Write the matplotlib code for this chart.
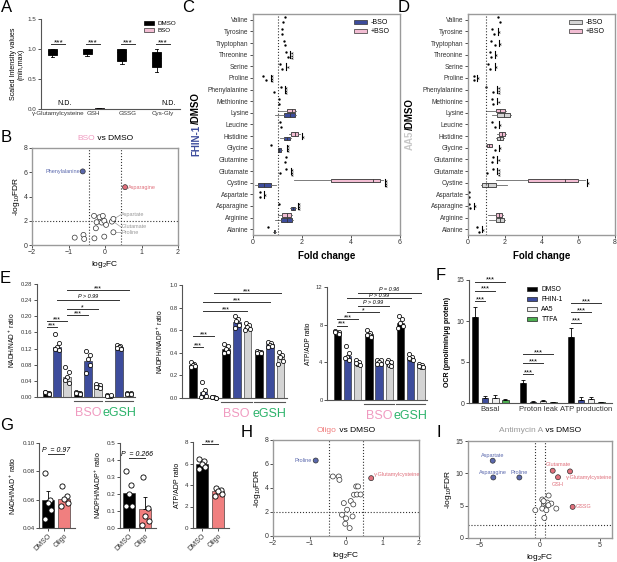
import matplotlib
matplotlib.use('Agg')
import matplotlib.pyplot as plt
from matplotlib.patches import Patch
from matplotlib.transforms import blended_transform_factory as btf
import numpy as np

plt.rcParams['font.family'] = ['Liberation Sans', 'DejaVu Sans']
plt.rcParams['mathtext.fontset'] = 'custom'
plt.rcParams['mathtext.rm'] = 'Liberation Sans'
plt.rcParams['mathtext.it'] = 'Liberation Sans:italic'
plt.rcParams['mathtext.bf'] = 'Liberation Sans:bold'

# ---------------- DATA ----------------
# Panel A (box stats: lo, q1, med, q3, hi)
a_categories = ['γ-Glutamylcysteine', 'GSH', 'GSSG', 'Cys-Gly']
a_dmso_stats = [(0.86, 0.90, 0.97, 1.00, 1.00), (0.88, 0.91, 0.98, 1.00, 1.00),
                (0.75, 0.80, 0.95, 1.00, 1.00), (0.62, 0.70, 0.85, 0.95, 1.00)]
a_bso_stats = [None, (0.0, 0.0, 0.0, 0.012, 0.012), (0.0, 0.0, 0.0, 0.008, 0.008), None]
a_sig = ['***', '***', '***', '***']

# Panel B volcano
b_x = [-0.61, 0.55, -0.30, -0.15, -0.06, -0.23, -0.09, -0.02, 0.03, -0.25, 0.19, 0.23,
       -0.83, -0.59, -0.57, -0.29, -0.02, 0.23]
b_y = [6.07, 4.77, 2.40, 2.29, 2.40, 1.88, 1.85, 1.99, 1.66, 1.38, 1.93, 2.15,
       0.61, 0.83, 0.50, 0.55, 0.69, 1.05]
b_dir = ['down', 'up'] + ['ns'] * 16

# Panel C / D horizontal box plots
cd_rows = ['Valine', 'Tyrosine', 'Tryptophan', 'Threonine', 'Serine', 'Proline',
           'Phenylalanine', 'Methionine', 'Lysine', 'Leucine', 'Histidine', 'Glycine',
           'Glutamine', 'Glutamate', 'Cystine', 'Aspartate', 'Asparagine', 'Arginine', 'Alanine']
c_minus = [1.22, 1.20, 1.30, 1.42, 1.20, 0.55, 0.87, 1.05,
           (0.88, 1.25, 1.50, 1.70, 1.75), 1.15, (1.10, 1.25, 1.40, 1.50, 1.55),
           (1.00, 1.03, 1.08, 1.15, 1.17), 1.30, 1.10, (0.10, 0.20, 0.45, 0.75, 0.95),
           0.30, (1.50, 1.55, 1.62, 1.72, 1.75), (0.90, 1.15, 1.40, 1.60, 1.65),
           (0.83, 0.85, 0.87, 0.90, 0.92)]
c_plus = [1.32, 1.18, 1.25, 1.35, 1.12, 0.40, 1.15, 1.05,
          (1.00, 1.40, 1.60, 1.72, 1.75), 1.12, (1.45, 1.55, 1.70, 1.85, 1.90),
          0.75, 1.35, 1.35, (1.68, 3.18, 4.90, 5.20, 5.30),
          0.28, 1.05, (1.00, 1.20, 1.40, 1.55, 1.60), 0.60]
c_sig = [None, None, None, (1.52, '***'), (1.36, '*'), (0.73, '***'), (1.30, '***'), None,
         None, None, (2.00, '*'), (1.38, '***'), None, (1.55, '***'), (5.37, '***'),
         (0.45, '*'), (1.82, '***'), None, None]
d_minus = [1.75, 1.40, 1.45, 1.25, 1.20, 0.35, 1.35, 1.35,
           (1.30, 1.60, 1.95, 2.30, 2.35), 1.45, (1.55, 1.60, 1.75, 1.90, 1.95),
           1.45, 1.30, 1.05, (0.70, 0.75, 1.10, 1.50, 2.10),
           0.05, 0.10, (1.15, 1.50, 1.75, 1.95, 2.00), 0.60]
d_plus = [1.65, 1.30, 1.25, 1.20, 1.10, 0.30, 1.00, 1.30,
          (1.00, 1.50, 1.75, 2.00, 2.05), 1.30, (1.60, 1.70, 1.85, 2.00, 2.05),
          (1.00, 1.05, 1.15, 1.30, 1.30), 1.35, 1.35, (1.52, 3.28, 5.27, 6.00, 6.36),
          0.05, 0.08, (1.10, 1.50, 1.70, 1.85, 1.90), 0.50]
d_sig = [None, (1.62, '*'), (1.70, '*'), (1.45, '*'), (1.45, '*'), (0.50, '*'), (1.60, '***'),
         (1.60, '*'), None, (1.70, '*'), None, (1.70, '*'), (1.60, '*'), (1.60, '***'),
         (6.45, '*'), None, (0.30, '*'), None, (0.75, '*')]

# Panel E (9 bars: DMSO, FHIN-1, AA5 x [ctrl, BSO, eGSH])
e_series = ['DMSO', 'FHIN-1', 'AA5'] * 3
e1_bars = [0.010, 0.125, 0.050, 0.010, 0.090, 0.027, 0.003, 0.125, 0.008]
e1_points = [[0.013, 0.011, 0.009, 0.007, 0.012], [0.155, 0.133, 0.125, 0.117, 0.120],
             [0.075, 0.062, 0.050, 0.035, 0.043], [0.013, 0.011, 0.009, 0.008, 0.010],
             [0.115, 0.105, 0.095, 0.080, 0.060], [0.033, 0.030, 0.026, 0.022, 0.025],
             [0.005, 0.003, 0.002, 0.004, 0.003], [0.130, 0.127, 0.124, 0.120, 0.122],
             [0.011, 0.009, 0.008, 0.007, 0.008]]
e1_brackets = [(0, 1, 0.173, '***'), (0, 2, 0.188, '***'), (2, 4, 0.203, '***'),
               (2, 5, 0.217, '*'), (1, 7, 0.240, 'P > 0.99'), (2, 8, 0.265, '***')]
e2_bars = [0.29, 0.05, 0.005, 0.43, 0.67, 0.63, 0.41, 0.48, 0.37]
e2_points = [[0.32, 0.30, 0.29, 0.28, 0.27], [0.14, 0.07, 0.04, 0.02, 0.01],
             [0.006, 0.004, 0.005, 0.003, 0.006], [0.48, 0.46, 0.43, 0.41, 0.40],
             [0.73, 0.70, 0.68, 0.65, 0.62], [0.66, 0.65, 0.63, 0.61, 0.60],
             [0.42, 0.41, 0.41, 0.40, 0.40], [0.50, 0.49, 0.47, 0.46, 0.45],
             [0.41, 0.38, 0.36, 0.33, 0.30]]
e2_brackets = [(0, 1, 0.45, '***'), (0, 2, 0.55, '***'), (1, 5, 0.77, '***'),
               (1, 7, 0.85, '***'), (2, 8, 0.93, '***')]
e3_bars = [7.2, 4.7, 3.9, 7.0, 4.0, 3.9, 8.2, 4.5, 3.6]
e3_points = [[7.3, 7.2, 7.1, 7.0, 7.2], [5.7, 5.0, 4.6, 4.3, 4.5], [4.3, 4.0, 3.8, 3.7, 3.9],
             [7.4, 7.1, 6.9, 6.7, 6.9], [4.3, 4.2, 4.0, 3.8, 3.8], [4.3, 4.0, 3.7, 3.6, 4.0],
             [8.9, 8.6, 8.2, 7.9, 7.6], [4.9, 4.6, 4.4, 4.2, 4.5], [3.8, 3.7, 3.5, 3.5, 3.6]]
e3_brackets = [(0, 1, 7.9, '***'), (0, 2, 8.6, '***'), (1, 4, 9.3, '*'),
               (2, 5, 10.0, 'P > 0.99'), (1, 7, 10.8, 'P > 0.99'), (2, 8, 11.4, 'P = 0.96')]

# Panel F
f_categories = ['Basal', 'Proton leak', 'ATP production']
f_series = ['DMSO', 'FHIN-1', 'AA5', 'TTFA']
f_values = [[10.5, 2.5, 8.1], [0.6, 0.15, 0.4], [0.6, 0.2, 0.45], [0.35, 0.1, 0.1]]
f_errors = [[1.2, 0.3, 1.0], [0.3, 0.1, 0.3], [0.4, 0.15, 0.3], [0.15, 0.05, 0.05]]
f_brackets = [[12.4, 13.7, 14.8], [3.5, 4.9, 6.0], [9.8, 11.1, 12.2]]

# Panel G
g_groups = ['DMSO', 'Oligo']
g1_bars = [0.0598, 0.0605]; g1_err = [0.0066, 0.0]
g1_points = [[0.079, 0.0595, 0.0576, 0.0529, 0.0465], [0.0697, 0.0628, 0.0605, 0.0576, 0.0555]]
g2_bars = [0.206, 0.114]; g2_err = [0.0, 0.066]
g2_points = [[0.337, 0.255, 0.20, 0.127, 0.127], [0.30, 0.12, 0.07, 0.04, 0.02]]
g3_bars = [6.0, 3.4]; g3_err = [0.0, 0.0]
g3_points = [[6.4, 6.2, 6.0, 5.7, 5.5], [3.7, 3.5, 3.4, 3.2, 3.0]]

# Panel H volcano
h_x = [-0.83, 0.69, -0.36, -0.20, -0.18, 0.28, 0.33, 0.22, 0.30, 0.40, -0.06, 0.13,
       0.20, 0.03, -0.11, 0.18, 0.00, -0.02, 0.10]
h_y = [6.29, 4.82, 4.96, 4.96, 4.68, 4.13, 4.13, 3.44, 3.46, 3.46, 2.74, 2.91,
       2.63, 2.19, 1.77, 1.63, 1.47, 1.02, 0.66]
h_dir = ['down', 'up'] + ['ns'] * 17

# Panel I volcano
i_x = [-3.94, -3.89, -1.72, 1.06, 2.50, 1.50, 2.72, -0.39, 0.19, 0.72, 0.33, 0.42, 0.61,
       0.94, 0.19, 0.53, 1.36, 0.36, 0.30, 0.70]
i_y = [11.95, 9.36, 9.36, 10.40, 10.30, 9.40, 4.81, 4.30, 5.95, 6.57, 5.17, 5.43, 5.48,
       5.33, 4.55, 4.30, 4.55, 3.10, 5.70, 5.07]
i_dir = ['down', 'down', 'down', 'up', 'up', 'up', 'up'] + ['ns'] * 13

# ---------------- STYLE ----------------
W, H = 617, 562
fig = plt.figure(figsize=(W / 100, H / 100), dpi=100)
BLUE = '#3d4c9c'
PINK = '#f2bdd3'
GREY = '#d4d4d4'
GREEN = '#4caf50'
BSO_TXT = '#f09ac0'
EGSH_TXT = '#2db36b'
SALMON = '#f07f7f'
PT_BLUE = '#5a68ad'
PT_RED = '#e0707c'
SPINE = '#555555'


def ax_px(x0, y0, x1, y1):
    return fig.add_axes([x0 / W, 1 - y1 / H, (x1 - x0) / W, (y1 - y0) / H])


def style(ax, box=False, lab=4.5, color=SPINE, lw=0.8):
    for s in ['top', 'right']:
        ax.spines[s].set_visible(box)
    for s in ax.spines.values():
        s.set_color(color)
        s.set_linewidth(lw)
    ax.tick_params(length=2, width=0.6, colors='#333333', labelsize=lab, pad=1.2)


def letter(s, x, y):
    fig.text(x / W, 1 - y / H, s, fontsize=12, va='top', ha='left')


def multicolor(parts, cx, cy, fs, rotation=0, weight='normal'):
    r = fig.canvas.get_renderer()
    ts, sizes = [], []
    for s, c in parts:
        t = fig.text(0, 0, s, color=c, fontsize=fs, rotation=rotation, weight=weight,
                     va='center', ha='center')
        bb = t.get_window_extent(r)
        sizes.append(bb.width if rotation == 0 else bb.height)
        ts.append(t)
    pos = -sum(sizes) / 2
    for t, s in zip(ts, sizes):
        mid = pos + s / 2
        if rotation == 0:
            t.set_position(((cx + mid) / W, 1 - cy / H))
        else:
            t.set_position((cx / W, 1 - (cy - mid) / H))
        pos += s


def bracket(ax, x1, x2, y, txt, fs=4.5):
    ax.plot([x1, x2], [y, y], color='#333333', lw=0.7, clip_on=False)
    stars = txt.startswith('*')
    ax.annotate(txt, xy=((x1 + x2) / 2, y), xytext=(0, -1.6 if stars else 0.5),
                textcoords='offset points', ha='center', va='bottom', fontsize=fs + (1 if stars else 0),
                style='normal' if stars else 'italic', annotation_clip=False)


JIT = [-0.17, 0.15, -0.02, 0.2, -0.2]

# ---------------- PANEL A ----------------
axA = ax_px(41, 19, 180, 109)
style(axA)
for i, (sd, sb) in enumerate(zip(a_dmso_stats, a_bso_stats)):
    for st, col, off in [(sd, 'black', -0.17), (sb, PINK, 0.17)]:
        if st is None:
            axA.text(i + 0.5 + off, 0.03, 'N.D.', ha='center', va='bottom', fontsize=5)
            continue
        lo, q1, med, q3, hi = st
        axA.bxp([dict(whislo=lo, q1=q1, med=med, q3=q3, whishi=hi, fliers=[])],
                positions=[i + 0.5 + off], widths=0.26, patch_artist=True, showcaps=True,
                boxprops=dict(facecolor=col, edgecolor='black', linewidth=0.6),
                medianprops=dict(color='black', linewidth=0.6),
                whiskerprops=dict(color='black', linewidth=0.6),
                capprops=dict(color='black', linewidth=0.6), capwidths=0.1, manage_ticks=False)
    bracket(axA, i + 0.5 - 0.2, i + 0.5 + 0.2, 1.08, a_sig[i], fs=5)
axA.set_xlim(0, 4)
axA.set_ylim(0, 1.5)
axA.set_yticks([0, 0.5, 1.0, 1.5])
axA.set_yticklabels(['0.0', '0.5', '1.0', '1.5'])
axA.set_xticks([i + 0.5 for i in range(4)])
axA.set_xticklabels(a_categories, fontsize=4.5)
axA.tick_params(axis='x', length=0)
axA.set_ylabel('Scaled Intensity values\n(min,max)', fontsize=5, labelpad=2)
axA.legend(handles=[Patch(facecolor='black', edgecolor='black', lw=0.5, label='DMSO'),
                    Patch(facecolor=PINK, edgecolor='#333', lw=0.5, label='BSO')],
           loc='upper left', bbox_to_anchor=(141 / W, 1 - 18 / H), bbox_transform=fig.transFigure,
           frameon=False, fontsize=4.5, handlelength=1.6, handleheight=0.6, labelspacing=0.3,
           borderpad=0, handletextpad=0.5)


# ---------------- VOLCANO helper ----------------
def volcano(ax, xs, ys, dirs, xlim, ylim, xticks, yticks, vl):
    style(ax, box=True, color='#9a9a9a', lw=1.0, lab=5)
    cmap = {'ns': 'white', 'up': PT_RED, 'down': PT_BLUE}
    ax.scatter(xs, ys, s=13, facecolor=[cmap[d] for d in dirs], edgecolor='#333333',
               linewidth=0.5, zorder=3)
    ax.axvline(-vl, color='#333', ls=':', lw=0.8)
    ax.axvline(vl, color='#333', ls=':', lw=0.8)
    ax.axhline(2, color='#333', ls=':', lw=0.8)
    ax.set_xlim(*xlim)
    ax.set_ylim(*ylim)
    ax.set_xticks(xticks)
    ax.set_yticks(yticks)
    ax.set_xlabel('log$_2$FC', fontsize=6, labelpad=2)
    ax.set_ylabel('-log$_{10}$FDR', fontsize=6, labelpad=1)


# ---------------- PANEL B ----------------
axB = ax_px(32, 148, 178, 245)
volcano(axB, b_x, b_y, b_dir, (-2, 2), (0, 8), [-2, -1, 0, 1, 2], [0, 2, 4, 6, 8], 0.44)
axB.text(-0.68, 6.07, 'Phenylalanine', ha='right', va='center', fontsize=4, color=PT_BLUE)
axB.text(0.64, 4.77, 'Asparagine', ha='left', va='center', fontsize=4, color=PT_RED)
for (px, py), (tx, ty), name in [((0.25, 2.15), (0.45, 2.5), 'Aspartate'),
                                 ((0.23, 1.93), (0.45, 1.5), 'Glutamate'),
                                 ((0.28, 1.05), (0.45, 1.05), 'Proline')]:
    axB.plot([px, tx - 0.02], [py, ty], color='#999999', lw=0.5)
    axB.text(tx, ty, name, ha='left', va='center', fontsize=4, color='#999999')
multicolor([('BSO', BSO_TXT), (' vs DMSO', 'black')], 105, 138, 6)


# ---------------- PANEL C / D ----------------
def hbox(ax, minus, plus, sig, mcol, xlim, xticks, soff):
    style(ax, box=True, color='#9a9a9a', lw=1.0, lab=5)
    n = len(cd_rows)
    for i in range(n):
        y = n - 1 - i
        for st, col, dy in [(plus[i], PINK, 0.2), (minus[i], mcol, -0.2)]:
            if not isinstance(st, tuple):
                ax.plot([st], [y + dy], 'o', ms=1.7, color='black', mew=0)
            else:
                lo, q1, med, q3, hi = st
                ax.bxp([dict(whislo=lo, q1=q1, med=med, q3=q3, whishi=hi, fliers=[])],
                       positions=[y + dy], widths=0.3, orientation='horizontal',
                       patch_artist=True, showcaps=False,
                       boxprops=dict(facecolor=col, edgecolor='#333333', linewidth=0.6),
                       medianprops=dict(color='#333333', linewidth=0.6),
                       whiskerprops=dict(color='#666666', linewidth=0.6), manage_ticks=False)
        if sig[i] is not None:
            xb, txt = sig[i]
            ax.plot([xb, xb], [y - 0.28, y + 0.28], color='black', lw=0.8)
            ax.text(xb + soff, y, txt, rotation=90, ha='center', va='center', fontsize=5.5,
                    clip_on=True)
    ax.axvline(1, color='#333', ls=':', lw=0.8)
    ax.set_xlim(*xlim)
    ax.set_ylim(-0.5, n - 0.5)
    ax.set_xticks(xticks)
    ax.set_yticks(range(n))
    ax.set_yticklabels(cd_rows[::-1], fontsize=4.7)
    ax.set_xlabel('Fold change', fontsize=7, weight='bold', labelpad=3)


axC = ax_px(253, 14, 400, 235)
hbox(axC, c_minus, c_plus, c_sig, BLUE, (0, 6), [0, 2, 4, 6], 0.17)
axC.legend(handles=[Patch(facecolor=BLUE, edgecolor='#333', lw=0.5, label='-BSO'),
                    Patch(facecolor=PINK, edgecolor='#333', lw=0.5, label='+BSO')],
           loc='upper left', bbox_to_anchor=(351 / W, 1 - 16 / H), bbox_transform=fig.transFigure,
           frameon=False, fontsize=5, handlelength=1.8, handleheight=0.6, labelspacing=0.25,
           borderpad=0, handletextpad=0.5)
multicolor([('FHIN-1', BLUE), ('/DMSO', 'black')], 196, 124, 7, rotation=90, weight='bold')

axD = ax_px(468, 14, 615, 235)
hbox(axD, d_minus, d_plus, d_sig, GREY, (0, 8), [0, 2, 4, 6, 8], 0.22)
axD.legend(handles=[Patch(facecolor=GREY, edgecolor='#333', lw=0.5, label='-BSO'),
                    Patch(facecolor=PINK, edgecolor='#333', lw=0.5, label='+BSO')],
           loc='upper left', bbox_to_anchor=(566 / W, 1 - 16 / H), bbox_transform=fig.transFigure,
           frameon=False, fontsize=5, handlelength=1.8, handleheight=0.6, labelspacing=0.25,
           borderpad=0, handletextpad=0.5)
multicolor([('AA5', '#c8c8c8'), ('/DMSO', 'black')], 410, 124, 7, rotation=90, weight='bold')

# ---------------- PANEL E ----------------
e_pos = [0, 1, 2, 3.1, 4.1, 5.1, 6.2, 7.2, 8.2]
e_cmap = {'DMSO': 'black', 'FHIN-1': BLUE, 'AA5': GREY}


def ebar(ax, bars, points, brackets, ylim, yticks, ylabel, fmt):
    style(ax, lab=4.2)
    ax.bar(e_pos, bars, width=0.72, color=[e_cmap[s] for s in e_series],
           edgecolor='#222222', linewidth=0.4)
    for p, pts in zip(e_pos, points):
        ax.scatter(np.array(JIT) + p, pts, s=9, facecolor='white', edgecolor='black',
                   linewidth=0.55, zorder=3, clip_on=False)
    for a, b, y, t in brackets:
        bracket(ax, e_pos[a], e_pos[b], y, t, fs=4)
    ax.set_xlim(-1.0, 8.8)
    ax.set_ylim(*ylim)
    ax.set_yticks(yticks)
    ax.set_yticklabels([fmt.format(v) for v in yticks])
    ax.set_xticks([])
    ax.set_ylabel(ylabel, fontsize=4.8, labelpad=3)
    tr = btf(ax.transData, ax.transAxes)
    for (i0, i1), name, col in [((3, 5), 'BSO', BSO_TXT), ((6, 8), 'eGSH', EGSH_TXT)]:
        ax.plot([e_pos[i0] - 0.45, e_pos[i1] + 0.45], [-0.035, -0.035], transform=tr,
                color='#555555', lw=0.8, clip_on=False)
        ax.text((e_pos[i0] + e_pos[i1]) / 2, -0.09, name, transform=tr, ha='center', va='top',
                fontsize=9, color=col)


axE1 = ax_px(37, 284, 135, 397)
ebar(axE1, e1_bars, e1_points, e1_brackets, (0, 0.28), [0, 0.04, 0.08, 0.12, 0.16, 0.20, 0.24, 0.28],
     'NADH/NAD$^+$ ratio', '{:.2f}')
axE2 = ax_px(182, 285, 287, 398)
ebar(axE2, e2_bars, e2_points, e2_brackets, (0, 1.0), [0, 0.2, 0.4, 0.6, 0.8, 1.0],
     'NADPH/NADP$^+$ ratio', '{:.1f}')
axE3 = ax_px(327, 287, 427, 400)
ebar(axE3, e3_bars, e3_points, e3_brackets, (0, 12), [0, 4, 8, 12], 'ATP/ADP ratio', '{:.0f}')

# ---------------- PANEL F ----------------
axF = ax_px(469, 280, 612, 403)
style(axF, lab=5)
f_cols = ['black', BLUE, '#eeeeee', GREEN]
xs = np.arange(len(f_categories))
for k, (vals, errs, col, name) in enumerate(zip(f_values, f_errors, f_cols, f_series)):
    axF.bar(xs + (k - 1.5) * 0.21, vals, width=0.14, color=col, edgecolor='#222222',
            linewidth=0.5, label=name,
            yerr=[np.zeros(len(errs)), errs], error_kw=dict(ecolor='black', elinewidth=0.6, capsize=1.5, capthick=0.6))
for j in range(3):
    for k in range(3):
        bracket(axF, xs[j] - 1.5 * 0.21, xs[j] + (k - 0.5) * 0.21, f_brackets[j][k], '***', fs=4.5)
axF.set_xlim(-0.44, 2.54)
axF.set_ylim(0, 15)
axF.set_yticks([0, 5, 10, 15])
axF.set_xticks(xs)
axF.set_xticklabels(f_categories, fontsize=5.5)
axF.tick_params(axis='x', length=0, pad=2)
axF.set_ylabel('OCR (pmol/min/μg protein)', fontsize=5, weight='bold', labelpad=4)
axF.legend(loc='upper left', bbox_to_anchor=(524 / W, 1 - 283 / H), bbox_transform=fig.transFigure,
           frameon=False, fontsize=4.8, handlelength=1.5, handleheight=0.6, labelspacing=0.45,
           borderpad=0, handletextpad=0.6)


# ---------------- PANEL G ----------------
def gbar(ax, bars, errs, points, ylim, yticks, fmt, ylabel, sig_y, sig_txt):
    style(ax, lab=4.5)
    ax.bar([0, 1], bars, width=0.72, color=['black', SALMON], edgecolor='#222222', linewidth=0.4,
           yerr=[[0, 0], errs], error_kw=dict(ecolor='black', elinewidth=0.6, capsize=1.5, capthick=0.6))
    for p, pts in zip([0, 1], points):
        ax.scatter(np.array(JIT) + p, pts, s=14, facecolor='white', edgecolor='black',
                   linewidth=0.6, zorder=3, clip_on=False)
    bracket(ax, 0, 1, sig_y, sig_txt, fs=5)
    ax.set_xlim(-0.55, 1.65)
    ax.set_ylim(*ylim)
    ax.set_yticks(yticks)
    ax.set_yticklabels([fmt.format(v) for v in yticks])
    ax.set_xticks([0, 1])
    ax.set_xticklabels(g_groups, rotation=45, ha='right', rotation_mode='anchor', fontsize=5)
    ax.tick_params(axis='x', length=2)
    ax.set_ylabel(ylabel, fontsize=5, labelpad=3)


axG1 = ax_px(39, 443, 75, 528)
gbar(axG1, g1_bars, g1_err, g1_points, (0.04, 0.10), [0.04, 0.06, 0.08, 0.10], '{:.2f}',
     'NADH/NAD$^+$ ratio', 0.092, 'P  = 0.97')
axG2 = ax_px(120, 443, 156, 528)
gbar(axG2, g2_bars, g2_err, g2_points, (0, 0.5), [0, 0.1, 0.2, 0.3, 0.4, 0.5], '{:.1f}',
     'NADPH/NADP$^+$ ratio', 0.41, 'P  = 0.266')
axG3 = ax_px(193, 442, 229, 528)
gbar(axG3, g3_bars, g3_err, g3_points, (0, 8), [0, 2, 4, 6, 8], '{:.0f}',
     'ATP/ADP ratio', 7.8, '***')

# ---------------- PANEL H ----------------
axH = ax_px(273, 440, 419, 536)
volcano(axH, h_x, h_y, h_dir, (-2, 2), (0, 8), [-2, -1, 0, 1, 2], [0, 2, 4, 6, 8], 0.46)
axH.text(-0.95, 6.3, 'Proline', ha='right', va='center', fontsize=4, color=PT_BLUE)
axH.text(0.78, 5.1, 'γ-Glutamylcysteine', ha='left', va='center', fontsize=4, color=PT_RED)
multicolor([('Oligo', SALMON), (' vs DMSO', 'black')], 346, 430, 6)

# ---------------- PANEL I ----------------
axI = ax_px(468, 441, 612, 538)
volcano(axI, i_x, i_y, i_dir, (-6, 6), (0, 15), [-5, 0, 5], [0, 5, 10, 15], 0.42)
for txt, (tx, ty), ha, col in [('Aspartate', (-3.95, 12.75), 'center', PT_BLUE),
                               ('Asparagine', (-3.9, 10.15), 'center', PT_BLUE),
                               ('Proline', (-1.72, 10.15), 'center', PT_BLUE),
                               ('Glutamate', (1.5, 11.3), 'center', PT_RED),
                               ('γ-Glutamylcysteine', (2.2, 9.4), 'left', PT_RED),
                               ('GSH', (1.5, 8.3), 'center', PT_RED),
                               ('GSSG', (2.95, 4.8), 'left', PT_RED)]:
    axI.text(tx, ty, txt, ha=ha, va='center', fontsize=4, color=col)
multicolor([('Antimycin A', '#9a9a9a'), (' vs DMSO', 'black')], 540, 430, 6)

# ---------------- LETTERS ----------------
letter('A', 1, 0)
letter('B', 1, 130)
letter('C', 182, 0)
letter('D', 398, 0)
letter('E', 0, 271)
letter('F', 436, 268)
letter('G', 0, 418)
letter('H', 241, 425)
letter('I', 436, 425)

fig.savefig('out.png', dpi=100)
